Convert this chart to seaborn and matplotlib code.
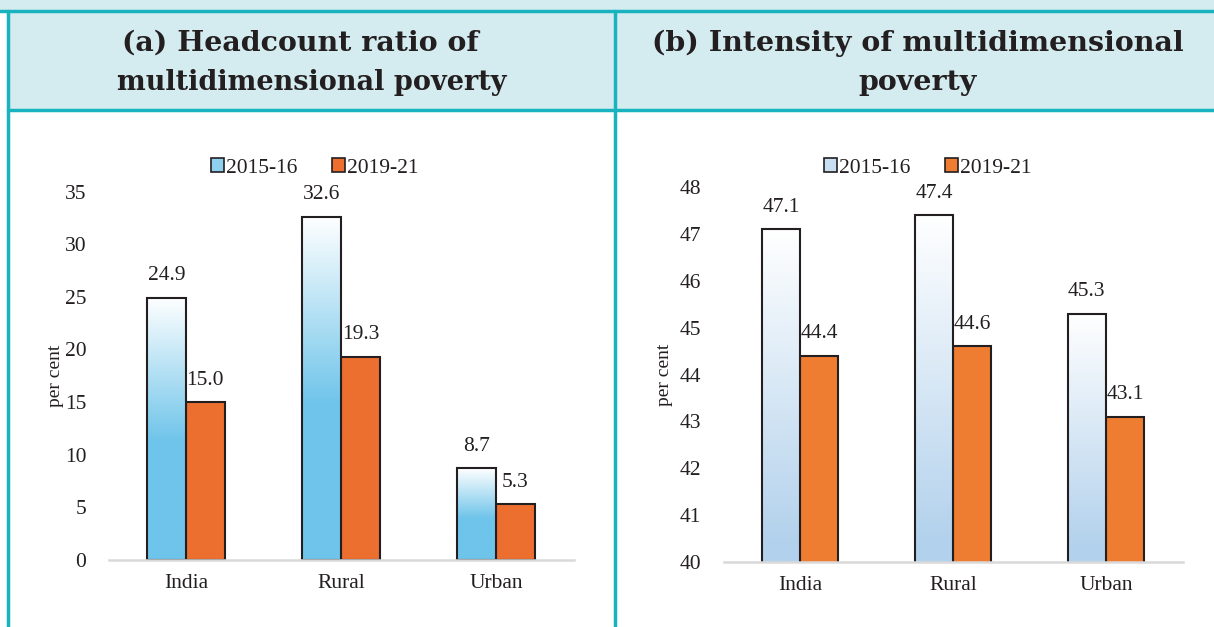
import numpy as np
import pandas as pd
import seaborn as sns
import matplotlib.pyplot as plt
from matplotlib import font_manager as fm
from matplotlib.patches import Rectangle, Patch
from matplotlib.lines import Line2D
from matplotlib.colors import LinearSegmentedColormap

# data
regions = ["India", "Rural", "Urban"]
years = ["2015-16", "2019-21"]
hcr_2015 = [24.9, 32.6, 8.7]
hcr_2019 = [15.0, 19.3, 5.3]
int_2015 = [47.1, 47.4, 45.3]
int_2019 = [44.4, 44.6, 43.1]

hcr = pd.DataFrame({"region": regions * 2,
                    "year": [years[0]] * 3 + [years[1]] * 3,
                    "value": hcr_2015 + hcr_2019})
intensity = pd.DataFrame({"region": regions * 2,
                          "year": [years[0]] * 3 + [years[1]] * 3,
                          "value": int_2015 + int_2019})

# look for a Times-like serif (Liberation Serif) anywhere on the system
for f in fm.findSystemFonts():
    low = f.lower()
    if "liberation" in low and "serif" in low and "sans" not in low:
        try:
            fm.fontManager.addfont(f)
        except Exception:
            pass
names = {f.name for f in fm.fontManager.ttflist}
serif = "DejaVu Serif"
for cand in ["Liberation Serif", "Times New Roman", "Nimbus Roman", "TeX Gyre Termes"]:
    if cand in names:
        serif = cand
        break

sns.set_style("white")
plt.rcParams["font.family"] = [serif, "DejaVu Serif"]
tick_size = 15.5 if serif != "DejaVu Serif" else 13.5

W, H = 1214, 627
fig = plt.figure(figsize=(W / 100, H / 100), dpi=100)

teal = "#19b3bf"
header_bg = "#d4ecf0"
ink = "#231f20"


def fx(px):
    return px / W


def fy(py):
    return 1 - py / H


# header boxes
fig.add_artist(Rectangle((0, fy(11)), 1, 11 / H, transform=fig.transFigure,
                         facecolor=header_bg, edgecolor="none", zorder=0))
fig.add_artist(Rectangle((fx(8), fy(110)), 1 - fx(8), 99 / H, transform=fig.transFigure,
                         facecolor=header_bg, edgecolor="none", zorder=0))
for yy in (11, 110):
    fig.add_artist(Line2D([fx(8) if yy == 110 else 0, 1], [fy(yy), fy(yy)],
                          transform=fig.transFigure, color=teal, lw=2.5))
for xx in (8, 615):
    fig.add_artist(Line2D([fx(xx), fx(xx)], [fy(11), 0],
                          transform=fig.transFigure, color=teal, lw=2.5))

title_font = dict(family="DejaVu Serif", fontweight="bold", fontsize=20.5,
                  color=ink, ha="center", va="center")
fig.text(fx(300), fy(43), "(a) Headcount ratio of", **title_font)
fig.text(fx(312), fy(83), "multidimensional poverty", fontsize=19.5,
         **{k: v for k, v in title_font.items() if k != "fontsize"})
fig.text(fx(918), fy(43), "(b) Intensity of multidimensional", **title_font)
fig.text(fx(918), fy(83), "poverty", **title_font)


def draw_panel(ax, df, colors, grad_color, ylim, ticks, grad_frac):
    sns.barplot(data=df, x="region", y="value", hue="year", order=regions,
                hue_order=years, palette=colors, saturation=1, width=0.5, gap=0,
                edgecolor=ink, linewidth=1.5, legend=False, ax=ax)
    ax.set_ylim(*ylim)
    ax.set_xlim(-0.5, 2.5)
    # white-to-colour fill for the 2015-16 bars
    cmap = LinearSegmentedColormap.from_list(
        "g", [(0, "#ffffff"), (grad_frac, grad_color), (1, grad_color)])
    grad = np.linspace(0, 1, 256).reshape(-1, 1)
    for bar in ax.containers[0]:
        x0 = bar.get_x()
        x1 = x0 + bar.get_width()
        top = bar.get_height() + bar.get_y()
        bot = max(ylim[0], bar.get_y())
        im = ax.imshow(grad, cmap=cmap, extent=[x0, x1, bot, top],
                       aspect="auto", zorder=1.5, origin="upper")
        im.set_clip_path(bar)
        bar.set_facecolor("none")
        bar.set_zorder(2)
    ax.set_xlim(-0.5, 2.5)
    ax.set_ylim(*ylim)
    for cont in ax.containers:
        for bar in cont:
            v = bar.get_height() + bar.get_y()
            ax.annotate(f"{v:.1f}", (bar.get_x() + bar.get_width() / 2, v),
                        xytext=(0, 9), textcoords="offset points",
                        ha="center", va="bottom", fontsize=tick_size,
                        color=ink, annotation_clip=False)
    ax.set_yticks(ticks)
    ax.tick_params(axis="both", length=0, labelsize=tick_size, colors=ink)
    ax.tick_params(axis="y", pad=16)
    ax.tick_params(axis="x", pad=10)
    ax.set_xlabel("")
    ax.set_ylabel("per cent", fontsize=tick_size - 1.5, color=ink, labelpad=4)
    for s in ["top", "right", "left"]:
        ax.spines[s].set_visible(False)
    ax.spines["bottom"].set_color("#d9d9d9")
    ax.spines["bottom"].set_linewidth(1.8)
    ax.spines["bottom"].set_zorder(3)
    ax.set_facecolor("none")


ax1 = fig.add_axes([fx(108.5), fy(560), fx(465), 368.4 / H])
draw_panel(ax1, hcr, ["#6ec4ea", "#ec6f2f"], "#6ec4ea", (0, 35),
           range(0, 36, 5), 0.55)

ax2 = fig.add_axes([fx(723.5), fy(562), fx(459), 375 / H])
draw_panel(ax2, intensity, ["#b2d1ec", "#ee7d31"], "#b2d1ec", (40, 48),
           range(40, 49), 0.95)

ax1.yaxis.set_label_coords(-0.095, 0.5)
ax2.yaxis.set_label_coords(-0.11, 0.5)


def legend(xc, cols):
    handles = [Patch(facecolor=cols[0], edgecolor=ink, lw=1.2),
               Patch(facecolor=cols[1], edgecolor=ink, lw=1.2)]
    fig.legend(handles, years, loc="center", bbox_to_anchor=(fx(xc), fy(168)),
               ncol=2, frameon=False, fontsize=tick_size, handlelength=0.6,
               handleheight=0.6, handletextpad=0.1, columnspacing=1.6,
               labelcolor=ink)


legend(315, ["#8fd0ee", "#ec6f2f"])
legend(928, ["#c8def1", "#ee7d31"])

fig.savefig("out.png", dpi=100)
